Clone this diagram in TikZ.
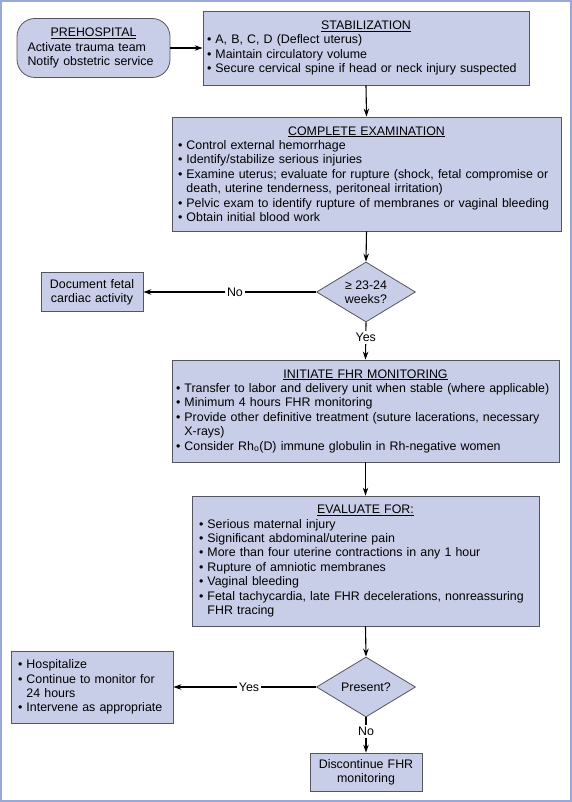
\documentclass[tikz,border=0pt]{standalone}
\usepackage{fontspec}
\setmainfont{Liberation Sans}
\usetikzlibrary{shapes.geometric,arrows.meta}
\definecolor{boxfill}{HTML}{C9CEE8}
\definecolor{boxline}{HTML}{55555F}
\definecolor{framecol}{HTML}{98A9D9}
\hyphenpenalty=10000

\begin{document}
\begin{tikzpicture}[x=1pt, y=-1pt,
    every node/.style={font=\fontsize{12.4}{14.4}\selectfont},
    stepbox/.style={draw=boxline, fill=boxfill, line width=0.8pt, inner xsep=7pt, inner ysep=2pt, align=left},
    decision/.style={diamond, draw=boxline, fill=boxfill, line width=0.8pt, inner sep=0pt, aspect=1.65, minimum width=99pt, minimum height=60pt, align=center},
    flow/.style={->, >={Stealth[length=8pt,width=5.5pt]}, line width=1.1pt},
    answer/.style={fill=white, inner sep=2pt}]

        % =========================================
        % === Cornice ===
        % =========================================
        \useasboundingbox (0,0) rectangle (572,802);
        \fill[white] (0,0) rectangle (572,802);
        \draw[framecol, line width=2pt] (1,1) rectangle (571,801);

        % Preospedaliero e stabilizzazione
        \node[stepbox, rounded corners=18pt, text width=132pt, inner xsep=10.5pt, minimum height=59pt] (pre) at (93.5,48)
            {\makebox[\linewidth]{\underline{PREHOSPITAL}}\\Activate trauma team\\Notify obstetric service};
        \node[stepbox, text width=318pt, inner xsep=4pt, minimum height=74pt] (stab) at (366,48)
            {\makebox[\linewidth]{\underline{STABILIZATION}}\\• A, B, C, D (Deflect uterus)\\• Maintain circulatory volume\\• Secure cervical spine if head or neck injury suspected};

        % Esame completo
        \node[stepbox, text width=377pt, inner xsep=6pt, minimum height=114pt] (exam) at (366.5,174)
            {\makebox[\linewidth]{\underline{COMPLETE EXAMINATION}}\\• Control external hemorrhage\\• Identify/stabilize serious injuries\\• Examine uterus; evaluate for rupture (shock, fetal compromise or\\\hphantom{•\ }death, uterine tenderness, peritoneal irritation)\\• Pelvic exam to identify rupture of membranes or vaginal bleeding\\• Obtain initial blood work};

        % Prima decisione (settimane)
        \node[decision] (weeks) at (366,292) {≥ 23-24\\weeks?};
        \node[stepbox, align=center, text width=94pt, inner xsep=4pt, minimum height=39pt] (doc) at (92,292)
            {Document fetal\\cardiac activity};

        % Monitoraggio FHR
        \node[stepbox, text width=379pt, inner xsep=4pt, minimum height=102pt] (init) at (365.5,411)
            {\makebox[\linewidth]{\underline{INITIATE FHR MONITORING}}\\• Transfer to labor and delivery unit when stable (where applicable)\\• Minimum 4 hours FHR monitoring\\• Provide other definitive treatment (suture lacerations, necessary\\\hphantom{•\ }X-rays)\\• Consider Rh\textsubscript{o}(D) immune globulin in Rh-negative women};
        \node[stepbox, text width=333pt, minimum height=130pt] (eval) at (365.5,561)
            {\makebox[\linewidth]{\underline{EVALUATE FOR:}}\\• Serious maternal injury\\• Significant abdominal/uterine pain\\• More than four uterine contractions in any 1 hour\\• Rupture of amniotic membranes\\• Vaginal bleeding\\• Fetal tachycardia, late FHR decelerations, nonreassuring\\\hphantom{•\ }FHR tracing};

        % Seconda decisione (presente?)
        \node[decision] (present) at (366,687) {Present?};
        \node[stepbox, text width=148pt, minimum height=72pt] (hosp) at (92,687)
            {• Hospitalize\\• Continue to monitor for\\\hphantom{•\ }24 hours\\• Intervene as appropriate};
        \node[stepbox, align=center, text width=100pt, inner xsep=6pt, minimum height=38pt] (disc) at (366,772)
            {Discontinue FHR\\monitoring};

        % Frecce
        \draw[flow] (pre.east) -- (stab.west);
        \draw[flow] (stab.south) -- (exam.north);
        \draw[flow] (exam.south) -- (weeks.north);
        \draw[flow] (weeks.west) -- node[answer, pos=0.47] {No} (doc.east);
        \draw[flow] (weeks.south) -- node[answer, pos=0.4] {Yes} (init.north);
        \draw[flow] (init.south) -- (eval.north);
        \draw[flow] (eval.south) -- (present.north);
        \draw[flow] (present.west) -- node[answer, pos=0.47] {Yes} (hosp.east);
        \draw[flow] (present.south) -- node[answer, pos=0.4] {No} (disc.north);

    \end{tikzpicture}
\end{document}
